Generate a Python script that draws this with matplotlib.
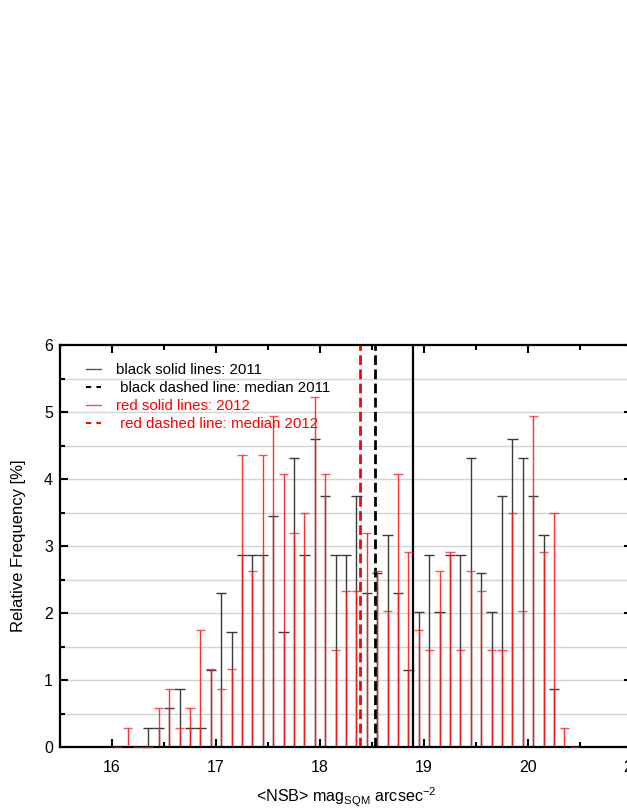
import numpy as np
import matplotlib
matplotlib.use("Agg")
import matplotlib.pyplot as plt
from matplotlib.lines import Line2D
from matplotlib.ticker import MultipleLocator

plt.rcParams['font.family'] = ['Liberation Sans', 'DejaVu Sans']
plt.rcParams['mathtext.fontset'] = 'custom'
plt.rcParams['mathtext.rm'] = 'Liberation Sans'
plt.rcParams['mathtext.it'] = 'Liberation Sans:italic'

# bin centres (mag arcsec^-2)
bin_centers = [16.05, 16.15, 16.25, 16.35, 16.45, 16.55, 16.65, 16.75, 16.85, 16.95,
               17.05, 17.15, 17.25, 17.35, 17.45, 17.55, 17.65, 17.75, 17.85, 17.95,
               18.05, 18.15, 18.25, 18.35, 18.45, 18.55, 18.65, 18.75, 18.85, 18.95,
               19.05, 19.15, 19.25, 19.35, 19.45, 19.55, 19.65, 19.75, 19.85, 19.95,
               20.05, 20.15, 20.25, 20.35, 20.45]

# relative frequency [%], 2011 (black)
freq_2011 = [0.0, 0.0, 0.0, 0.29, 0.29, 0.58, 0.86, 0.29, 0.29, 1.15,
             2.30, 1.72, 2.87, 2.87, 2.87, 3.45, 1.72, 4.31, 2.87, 4.60,
             3.74, 2.87, 2.87, 3.74, 2.30, 2.59, 3.16, 2.30, 1.15, 2.01,
             2.87, 2.01, 2.87, 2.87, 4.31, 2.59, 2.01, 3.74, 4.60, 4.31,
             3.74, 3.16, 0.86, 0.0, 0.0]

# relative frequency [%], 2012 (red)
freq_2012 = [0.0, 0.29, 0.0, 0.0, 0.58, 0.87, 0.29, 0.58, 1.74, 1.16,
             0.87, 1.16, 4.36, 2.62, 4.36, 4.94, 4.07, 3.20, 3.49, 5.23,
             4.07, 1.45, 2.33, 2.33, 3.20, 2.62, 2.03, 4.07, 2.91, 1.74,
             1.45, 2.62, 2.91, 1.45, 2.62, 2.33, 1.45, 1.45, 3.49, 2.03,
             4.94, 2.91, 3.49, 0.29, 0.0]

median_2011 = 18.525
median_2012 = 18.38
ref_line = 18.89

legend_labels = ["black solid lines: 2011", " black dashed line: median 2011",
                 "red solid lines: 2012", " red dashed line: median 2012"]

fig = plt.figure(figsize=(6.27, 8.11), dpi=100)
ax = fig.add_axes([60/627, 64/811, 572/627, 402/811])

x = np.array(bin_centers)
b = np.array(freq_2011)
r = np.array(freq_2012)

# grid
for yv in np.arange(0.5, 6.0, 0.5):
    ax.axhline(yv, color='#d4d4d4', lw=1.0, zorder=0)

black_c = '#3a3a3a'
red_c = '#ff1a1a'
ax.vlines(x, 0, b, color=black_c, lw=1.0, zorder=2)
ax.hlines(b, x - 0.05, x + 0.05, color=black_c, lw=1.0, zorder=2)
ax.vlines(x, 0, r, color=red_c, lw=1.0, zorder=3, alpha=0.9)
ax.hlines(r, x - 0.044, x + 0.044, color=red_c, lw=1.0, zorder=6, alpha=0.75,
          clip_on=False)

ax.axvline(median_2012, color='#ff0000', lw=2.0, ls=(0, (3.5, 1.6)), zorder=4)
ax.axvline(median_2011, color='black', lw=2.0, ls=(0, (3.5, 1.6)), zorder=4)
ax.axvline(ref_line, color='black', lw=1.6, zorder=4)

ax.set_xlim(15.5, 21.0)
ax.set_ylim(0, 6)
ax.xaxis.set_major_locator(MultipleLocator(1))
ax.xaxis.set_minor_locator(MultipleLocator(0.5))
ax.yaxis.set_major_locator(MultipleLocator(1))
ax.yaxis.set_minor_locator(MultipleLocator(0.5))
ax.tick_params(which='both', direction='in', top=True, right=True, width=1.5, labelsize=11.5)
ax.tick_params(which='major', length=6)
ax.tick_params(which='minor', length=3.5)
ax.tick_params(axis='x', pad=9)
ax.tick_params(axis='y', pad=5)
for s in ax.spines.values():
    s.set_linewidth(1.6)
    s.set_zorder(5)

ax.set_ylabel("Relative Frequency [%]", fontsize=12, labelpad=13)
ax.set_xlabel(r"<NSB> mag$_{\mathrm{SQM}}$ arcsec$^{\mathrm{-2}}$", fontsize=11.6, labelpad=8)

handles = [Line2D([], [], color='#555555', lw=1.0),
           Line2D([], [], color='black', lw=1.5, ls=(0, (2.5, 2.5))),
           Line2D([], [], color='#ff5050', lw=1.0),
           Line2D([], [], color='red', lw=1.5, ls=(0, (2.5, 2.5)))]
leg = ax.legend(handles, legend_labels, loc='upper left', bbox_to_anchor=(0.045, 0.955),
                frameon=False, fontsize=10.8, handlelength=1.0, handletextpad=1.0,
                labelspacing=0.26, borderpad=0, borderaxespad=0,
                labelcolor=['black', 'black', 'red', 'red'])

fig.savefig("out.png", dpi=100)
